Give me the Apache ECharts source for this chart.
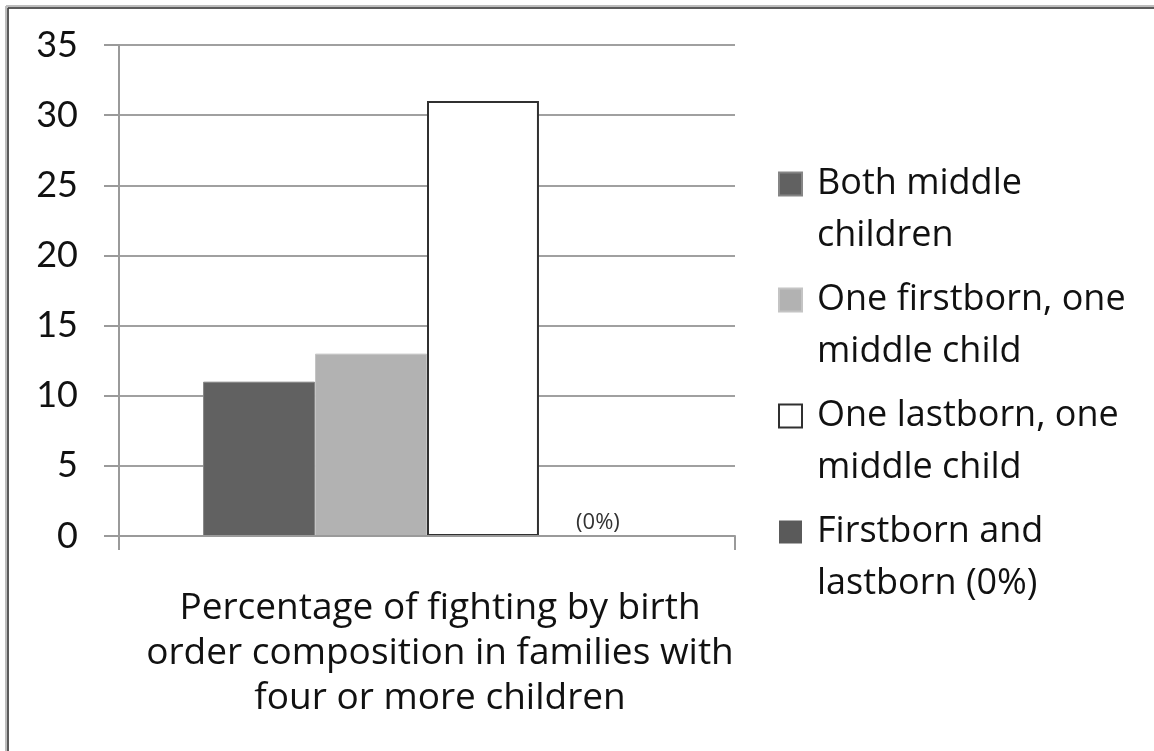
<!DOCTYPE html>
<html>
<head>
<meta charset="utf-8">
<script src="https://cdn.jsdelivr.net/npm/echarts@6/dist/echarts.min.js"></script>
<style>
  html, body { margin: 0; padding: 0; background: #fff; }
  #chart { width: 1154px; height: 751px; }
</style>
</head>
<body>
<div id="chart"></div>
<script>
// Category shown under the bars (one group)
const categories = ['Percentage of fighting by birth\norder composition in families with\nfour or more children'];

// Series names and their percentages
const seriesNames = [
  'Both middle\nchildren',
  'One firstborn, one\nmiddle child',
  'One lastborn, one\nmiddle child',
  'Firstborn and\nlastborn (0%)'
];
const bothMiddle = [11];
const firstbornMiddle = [13];
const lastbornMiddle = [31];
const firstbornLastborn = [0];

const yTicks = { min: 0, max: 35, interval: 5 };

const TEXT_FONT = 'Open Sans';
const NUM_FONT = 'Lato';
const chart = echarts.init(document.getElementById('chart'));

// square legend swatch with extra empty room so the text's first line sits beside it
const swatch = 'path://M0,0L23,0L23,23L0,23Z M33,75';

const styles = [
  { color: '#616161', borderColor: '#858585', borderWidth: 1 },
  { color: '#b2b2b2', borderColor: '#c4c4c4', borderWidth: 1 },
  { color: '#ffffff', borderColor: '#303030', borderWidth: 2 },
  { color: '#5a5a5a', borderColor: '#5a5a5a', borderWidth: 0 }
];
const values = [bothMiddle, firstbornMiddle, lastbornMiddle, firstbornLastborn];

chart.setOption({
  animation: false,
  backgroundColor: '#fff',
  grid: { left: 119, top: 45, right: 419, bottom: 215, containLabel: false },
  legend: {
    orient: 'vertical',
    left: 778,
    top: 158,
    padding: 0,
    icon: swatch,
    itemWidth: 33,
    itemHeight: 75,
    itemGap: 12,
    data: seriesNames,
    textStyle: { fontFamily: TEXT_FONT, fontSize: 36, color: '#111', lineHeight: 52 }
  },
  xAxis: {
    type: 'category',
    data: categories,
    z: 3,
    axisLine: { lineStyle: { color: '#9a9a9a', width: 2 } },
    axisTick: { show: true, length: 14, inside: false, lineStyle: { color: '#9a9a9a', width: 2 } },
    axisLabel: {
      fontFamily: TEXT_FONT, fontSize: 37, color: '#111', lineHeight: 45,
      margin: 50, align: 'center', padding: [0, 0, 0, 26]
    }
  },
  yAxis: {
    type: 'value',
    min: yTicks.min,
    max: yTicks.max,
    interval: yTicks.interval,
    axisLine: { show: true, lineStyle: { color: '#9a9a9a', width: 2 } },
    axisTick: { show: true, length: 15, lineStyle: { color: '#9a9a9a', width: 2 } },
    axisLabel: { fontFamily: NUM_FONT, fontSize: 36, color: '#111', margin: 41 },
    splitLine: { lineStyle: { color: '#a0a0a0', width: 2 } }
  },
  series: seriesNames.map((name, i) => ({
    name: name,
    type: 'bar',
    data: values[i],
    barGap: '0%',
    barCategoryGap: '27.3%',
    itemStyle: styles[i],
    label: i === 3 ? {
      show: true, position: 'top', distance: 2,
      formatter: '(0%)', fontFamily: TEXT_FONT, fontSize: 22, color: '#333',
      offset: [3, 0]
    } : { show: false }
  })),
  graphic: [
    // frame along the top and left edges
    { type: 'line', shape: { x1: 6, y1: 7, x2: 1154, y2: 7 }, style: { stroke: '#bdbdbd', lineWidth: 4 }, silent: true },
    { type: 'line', shape: { x1: 7, y1: 6, x2: 7, y2: 751 }, style: { stroke: '#bdbdbd', lineWidth: 4 }, silent: true },
    { type: 'line', shape: { x1: 8, y1: 8, x2: 1154, y2: 8 }, style: { stroke: '#3c3c3c', lineWidth: 1.5 }, silent: true },
    { type: 'line', shape: { x1: 8, y1: 8, x2: 8, y2: 751 }, style: { stroke: '#3c3c3c', lineWidth: 1.5 }, silent: true }
  ]
});
</script>
</body>
</html>
